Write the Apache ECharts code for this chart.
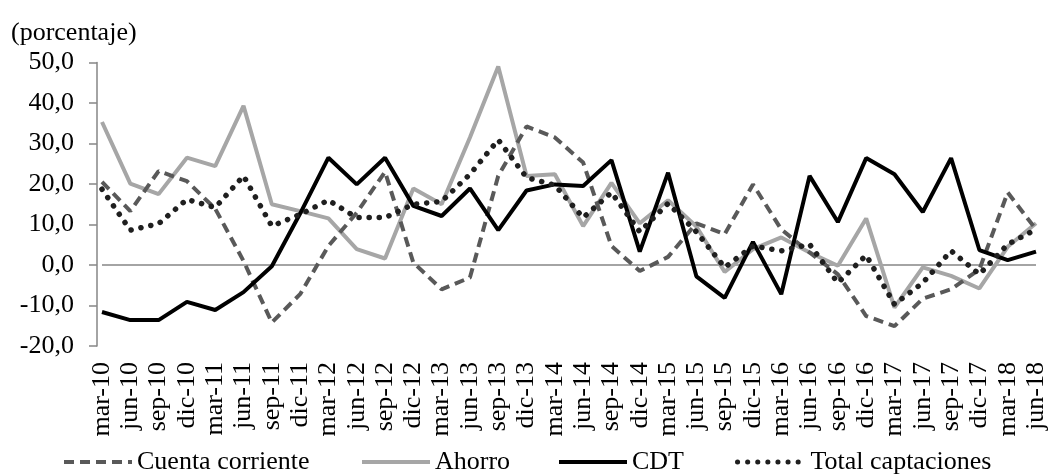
<!DOCTYPE html>
<html>
<head>
<meta charset="utf-8">
<script src="https://cdn.jsdelivr.net/npm/echarts@6/dist/echarts.min.js"></script>
<style>html,body{margin:0;padding:0;background:#fff;}#c{width:1050px;height:474px;}</style>
</head>
<body>
<div id="c"></div>
<script>
const categories = ['mar-10','jun-10','sep-10','dic-10','mar-11','jun-11','sep-11','dic-11','mar-12','jun-12','sep-12','dic-12','mar-13','jun-13','sep-13','dic-13','mar-14','jun-14','sep-14','dic-14','mar-15','jun-15','sep-15','dic-15','mar-16','jun-16','sep-16','dic-16','mar-17','jun-17','sep-17','dic-17','mar-18','jun-18'];
const cuentaCorriente = [20.5,13.3,23.2,20.7,13.9,1.0,-14.2,-7.2,4.7,12.9,23.0,0.6,-6.0,-3.1,22.0,34.2,31.5,25.3,4.7,-1.5,2.0,10.3,7.6,19.9,8.8,3.1,-2.3,-12.6,-15.1,-8.3,-6.0,-1.1,17.9,8.8];
const ahorro = [35.3,20.1,17.5,26.5,24.4,39.3,15.0,13.3,11.5,3.9,1.6,18.9,15.0,31.5,49.0,22.0,22.4,9.6,20.3,10.3,16.0,9.5,-1.7,3.9,6.8,3.1,-0.2,11.5,-10.5,-0.6,-2.7,-5.8,4.5,10.3];
const cdt = [-11.6,-13.6,-13.6,-9.1,-11.1,-6.7,-0.3,12.7,26.5,19.9,26.5,14.6,12.1,18.9,8.6,18.4,19.9,19.5,25.9,3.3,22.8,-2.8,-8.1,5.7,-7.2,22.0,10.6,26.4,22.4,13.1,26.4,3.7,1.2,3.3];
const totalCaptaciones = [18.7,8.6,10.2,16.2,14.2,22.0,9.6,12.5,16.0,11.7,11.7,15.0,15.7,22.4,30.9,21.6,19.7,11.7,17.9,8.2,15.2,8.2,-0.6,4.7,3.5,5.1,-4.4,2.4,-9.7,-4.4,3.5,-2.3,5.1,8.8];
const yTicks = {min: -20, max: 50, interval: 10};

const FONT = 'Liberation Serif';
const chart = echarts.init(document.getElementById('c'), null, {renderer: 'canvas'});
function legendAt(name, left, w) {
  return {
    data: [name], left: left, top: 449, padding: 0, itemWidth: 68, itemHeight: 14, itemGap: 0,
    itemStyle: {opacity: 0},
    lineStyle: {width: w},
    textStyle: {fontFamily: FONT, fontSize: 26, color: '#000'}
  };
}
chart.setOption({
  animation: false,
  backgroundColor: '#fff',
  title: {
    text: '(porcentaje)', left: 6, top: 15,
    textStyle: {fontFamily: FONT, fontSize: 26, fontWeight: 'normal', color: '#000'}
  },
  legend: [
    legendAt('Cuenta corriente', 62, 4),
    legendAt('Ahorro', 360, 4),
    legendAt('CDT', 557, 4),
    legendAt('Total captaciones', 735, 5)
  ],
  grid: {left: 102, right: 14, top: 62.5, bottom: 128, containLabel: false},
  xAxis: {
    type: 'category', data: categories, boundaryGap: false,
    axisLine: {show: false, onZero: false}, axisTick: {show: false},
    axisLabel: {rotate: 90, margin: 16, interval: 0, fontFamily: FONT, fontSize: 26, color: '#000'}
  },
  yAxis: {
    type: 'value', min: yTicks.min, max: yTicks.max, interval: yTicks.interval, offset: 5,
    axisLine: {show: true, lineStyle: {color: '#868686', width: 1.5}},
    axisTick: {show: true, inside: false, length: 8, lineStyle: {color: '#868686', width: 1.5}},
    splitLine: {show: false},
    axisLabel: {margin: 23, fontFamily: FONT, fontSize: 26, color: '#000',
      formatter: v => v.toFixed(1).replace('.', ',')}
  },
  series: [
    {name: 'Cuenta corriente', type: 'line', data: cuentaCorriente, symbol: 'none', z: 3,
      lineStyle: {color: '#595959', width: 4, type: [10, 6]}, itemStyle: {color: '#595959'},
      markLine: {silent: true, symbol: 'none', label: {show: false}, z: 1,
        lineStyle: {color: '#868686', width: 1.5, type: 'solid'}, data: [{yAxis: 0}]}},
    {name: 'Ahorro', type: 'line', data: ahorro, symbol: 'none', z: 2,
      lineStyle: {color: '#a6a6a6', width: 4}, itemStyle: {color: '#a6a6a6'}},
    {name: 'CDT', type: 'line', data: cdt, symbol: 'none', z: 4,
      lineStyle: {color: '#000', width: 4}, itemStyle: {color: '#000'}},
    {name: 'Total captaciones', type: 'line', data: totalCaptaciones, symbol: 'none', z: 5,
      lineStyle: {color: '#1f1f1f', width: 5.5, type: [0.1, 10], cap: 'round'}, itemStyle: {color: '#1f1f1f'}}
  ]
});
</script>
</body>
</html>
